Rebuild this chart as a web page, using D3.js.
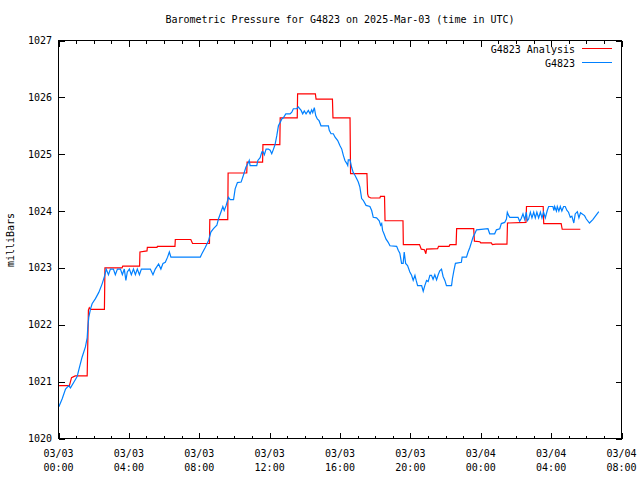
<!DOCTYPE html>
<html>
<head>
<meta charset="utf-8">
<script src="https://cdn.jsdelivr.net/npm/d3@7"></script>
<style>
  body { margin: 0; background: #fff; }
  svg { display: block; }
  text { font-family: "DejaVu Sans Mono", "Liberation Mono", monospace; font-size: 10px; fill: #000; }
</style>
</head>
<body>
<svg id="chart" width="640" height="480"></svg>
<script>
// ---- data (time in hours since 2025-03-03 00:00 UTC, pressure in mb) ----
const title = "Barometric Pressure for G4823 on 2025-Mar-03 (time in UTC)";
const yLabel = "milliBars";
const seriesNames = ["G4823 Analysis", "G4823"];

const xTickHours = [0, 4, 8, 12, 16, 20, 24, 28, 32];
const xTickDates = ["03/03", "03/03", "03/03", "03/03", "03/03", "03/03", "03/04", "03/04", "03/04"];
const xTickClock = ["00:00", "04:00", "08:00", "12:00", "16:00", "20:00", "00:00", "04:00", "08:00"];
const yTicks = [1020, 1021, 1022, 1023, 1024, 1025, 1026, 1027];

const analysisTimes = [0, 0.62, 0.74, 0.95, 1.63, 1.70, 1.75, 1.82, 2.61, 2.64, 3.61, 3.65, 4.61, 4.63, 5.03, 5.05,
  5.60, 5.62, 6.62, 6.64, 7.52, 7.62, 8.58, 8.60, 9.62, 9.64, 10.70, 10.72, 11.60, 11.62, 12.58, 12.60,
  13.57, 13.59, 14.60, 14.64, 15.57, 15.60, 16.57, 16.60, 17.53, 17.57, 17.62, 17.75, 18.27, 18.30, 18.53, 18.56,
  19.58, 19.60, 20.52, 20.62, 20.80, 20.88, 20.92, 21.55, 21.60, 22.20, 22.25, 22.60, 22.63, 23.60, 23.64, 23.95,
  24.00, 24.60, 24.66, 24.85, 25.49, 25.52, 26.57, 26.60, 27.55, 27.58, 28.57, 28.63, 29.66];
const analysisValues = [1020.93, 1020.93, 1021.07, 1021.10, 1021.10, 1022.26, 1022.30, 1022.27, 1022.27, 1023.00, 1023.00, 1023.03, 1023.03, 1023.28, 1023.30, 1023.36,
  1023.36, 1023.38, 1023.38, 1023.50, 1023.50, 1023.43, 1023.43, 1023.85, 1023.85, 1024.67, 1024.67, 1024.86, 1024.86, 1025.17, 1025.17, 1025.64,
  1025.64, 1026.06, 1026.06, 1025.97, 1025.97, 1025.64, 1025.64, 1024.66, 1024.66, 1024.30, 1024.25, 1024.23, 1024.23, 1024.26, 1024.26, 1023.83,
  1023.83, 1023.41, 1023.41, 1023.33, 1023.32, 1023.25, 1023.33, 1023.34, 1023.38, 1023.38, 1023.41, 1023.41, 1023.69, 1023.69, 1023.47, 1023.46,
  1023.44, 1023.44, 1023.41, 1023.42, 1023.42, 1023.79, 1023.80, 1024.08, 1024.08, 1023.78, 1023.78, 1023.68, 1023.68];

const obsTimes = [0.02, 0.21, 0.40, 0.58, 0.68, 0.87, 1.06, 1.19, 1.34, 1.53, 1.63, 1.66, 1.72, 1.82, 1.91, 2.10, 2.29, 2.48, 2.63, 2.71,
  2.84, 2.95, 3.12, 3.23, 3.35, 3.52, 3.63, 3.74, 3.83, 3.91, 4.03, 4.14, 4.26, 4.37, 4.48, 4.60, 4.71, 5.22, 5.37, 5.50,
  5.69, 5.82, 5.94, 6.07, 6.20, 6.30, 6.39, 8.06, 8.15, 8.34, 8.53, 8.66, 8.81, 9.00, 9.09, 9.23, 9.34, 9.42, 9.53, 9.66,
  9.76, 9.95, 10.04, 10.17, 10.38, 10.51, 10.65, 10.80, 10.84, 10.89, 11.27, 11.33, 11.46, 11.56, 11.63, 11.70, 11.80, 11.93, 12.03, 12.12,
  12.22, 12.31, 12.41, 12.50, 12.60, 12.69, 12.78, 12.92, 13.16, 13.26, 13.35, 13.54, 13.63, 13.79, 13.88, 13.97, 14.07, 14.20, 14.30, 14.39,
  14.45, 14.54, 14.62, 14.71, 14.81, 14.92, 15.34, 15.39, 15.49, 15.62, 15.72, 15.87, 16.00, 16.10, 16.19, 16.28, 16.38, 16.44, 16.47, 16.57,
  16.66, 16.75, 16.85, 16.95, 17.04, 17.13, 17.23, 17.32, 17.48, 17.70, 17.80, 17.89, 18.08, 18.23, 18.31, 18.37, 18.42, 18.50, 18.61, 18.74,
  18.84, 19.22, 19.31, 19.40, 19.50, 19.59, 19.65, 19.73, 19.84, 19.97, 20.07, 20.16, 20.26, 20.33, 20.41, 20.64, 20.73, 20.82, 20.92, 21.01,
  21.11, 21.20, 21.29, 21.39, 21.49, 21.58, 21.67, 21.77, 21.86, 21.96, 22.05, 22.34, 22.39, 22.47, 22.56, 22.90, 22.94, 23.19, 23.28, 23.38,
  23.47, 23.56, 23.66, 23.76, 24.41, 24.51, 24.79, 24.89, 25.08, 25.17, 25.36, 25.46, 25.51, 25.59, 25.65, 26.12, 26.21, 26.30, 26.40, 26.50,
  26.59, 26.65, 26.72, 26.82, 26.91, 27.01, 27.10, 27.19, 27.29, 27.39, 27.48, 27.57, 27.67, 27.78, 27.86, 28.10, 28.16, 28.20, 28.30, 28.35,
  28.44, 28.52, 28.61, 28.71, 28.80, 28.90, 28.99, 29.09, 29.18, 29.29, 29.37, 29.49, 29.58, 29.67, 29.77, 29.90, 30.00, 30.18, 30.37, 30.56, 30.71];
const obsValues = [1020.56, 1020.70, 1020.87, 1020.93, 1020.89, 1020.99, 1021.09, 1021.25, 1021.43, 1021.61, 1021.77, 1021.93, 1022.13, 1022.28, 1022.37, 1022.46, 1022.57, 1022.72, 1022.87, 1022.98,
  1022.88, 1022.98, 1022.98, 1022.88, 1022.98, 1022.98, 1022.88, 1022.98, 1022.78, 1022.93, 1022.98, 1022.88, 1022.98, 1022.88, 1022.98, 1022.88, 1022.98, 1022.98, 1022.88, 1022.98,
  1023.07, 1022.98, 1023.08, 1023.10, 1023.19, 1023.28, 1023.19, 1023.19, 1023.25, 1023.36, 1023.48, 1023.63, 1023.69, 1023.75, 1023.86, 1023.98, 1024.08, 1024.01, 1024.10, 1024.24,
  1024.20, 1024.20, 1024.39, 1024.50, 1024.51, 1024.63, 1024.77, 1024.86, 1024.89, 1024.80, 1024.80, 1024.89, 1024.94, 1025.04, 1025.04, 1024.99, 1025.09, 1025.09, 1025.07, 1025.01,
  1025.09, 1025.17, 1025.33, 1025.50, 1025.56, 1025.62, 1025.64, 1025.71, 1025.71, 1025.74, 1025.80, 1025.80, 1025.83, 1025.77, 1025.71, 1025.76, 1025.71, 1025.77, 1025.71, 1025.78,
  1025.73, 1025.82, 1025.68, 1025.62, 1025.59, 1025.50, 1025.50, 1025.42, 1025.36, 1025.36, 1025.30, 1025.24, 1025.15, 1025.09, 1024.98, 1024.89, 1024.84, 1024.80, 1024.90, 1024.90,
  1024.77, 1024.68, 1024.63, 1024.57, 1024.51, 1024.42, 1024.22, 1024.19, 1024.10, 1024.08, 1024.01, 1023.89, 1023.88, 1023.83, 1023.75, 1023.78, 1023.66, 1023.60, 1023.51, 1023.45,
  1023.39, 1023.38, 1023.31, 1023.26, 1023.08, 1023.08, 1023.28, 1023.08, 1023.04, 1022.93, 1022.87, 1022.78, 1022.87, 1022.78, 1022.69, 1022.69, 1022.59, 1022.69, 1022.78, 1022.76,
  1022.87, 1022.87, 1022.80, 1022.88, 1022.79, 1022.88, 1022.95, 1022.98, 1022.85, 1022.78, 1022.69, 1022.69, 1022.81, 1022.95, 1023.08, 1023.10, 1023.19, 1023.19, 1023.28, 1023.36,
  1023.45, 1023.54, 1023.60, 1023.67, 1023.69, 1023.60, 1023.60, 1023.67, 1023.69, 1023.78, 1023.80, 1023.86, 1023.98, 1023.92, 1023.89, 1023.89, 1023.82, 1023.87, 1023.95, 1023.85,
  1023.98, 1023.83, 1023.86, 1023.98, 1023.88, 1023.98, 1023.88, 1023.98, 1023.88, 1023.98, 1023.88, 1023.98, 1023.88, 1024.01, 1024.08, 1024.08, 1024.01, 1024.08, 1024.00, 1024.08,
  1024.00, 1024.08, 1024.00, 1024.08, 1024.08, 1024.01, 1023.98, 1023.89, 1023.91, 1023.79, 1023.95, 1023.99, 1023.88, 1023.97, 1023.95, 1023.92, 1023.86, 1023.79, 1023.85, 1023.93, 1023.99];

const seriesColors = ["#ff0000", "#0080ff"];

// ---- drawing ----
const svg = d3.select("#chart");
const L = 58.5, R = 621.5, T = 40.5, B = 438.5;

const x = d3.scaleLinear().domain([0, 32]).range([L, R]);
const y = d3.scaleLinear().domain([1020, 1027]).range([B, T]);

const minorHours = d3.range(0, 33, 1);

// minor ticks (bottom / top)
svg.append("g").attr("transform", `translate(0,${B})`)
  .call(d3.axisBottom(x).tickValues(minorHours).tickSize(-3).tickFormat(""))
  .call(g => g.select(".domain").remove());
svg.append("g").attr("transform", `translate(0,${T})`)
  .call(d3.axisTop(x).tickValues(minorHours).tickSize(-3).tickFormat(""))
  .call(g => g.select(".domain").remove());
// major ticks
svg.append("g").attr("transform", `translate(0,${B})`)
  .call(d3.axisBottom(x).tickValues(xTickHours).tickSize(-6).tickFormat(""))
  .call(g => g.select(".domain").remove());
svg.append("g").attr("transform", `translate(0,${T})`)
  .call(d3.axisTop(x).tickValues(xTickHours).tickSize(-6).tickFormat(""))
  .call(g => g.select(".domain").remove());
svg.append("g").attr("transform", `translate(${L},0)`)
  .call(d3.axisLeft(y).tickValues(yTicks).tickSize(-6).tickFormat(""))
  .call(g => g.select(".domain").remove());
svg.append("g").attr("transform", `translate(${R},0)`)
  .call(d3.axisRight(y).tickValues(yTicks).tickSize(-6).tickFormat(""))
  .call(g => g.select(".domain").remove());
svg.selectAll(".tick line").attr("stroke", "#000").attr("shape-rendering", "crispEdges");

// y tick labels
svg.append("g").selectAll("text").data(yTicks).join("text")
  .attr("x", 52).attr("y", d => y(d) + 3.5)
  .attr("text-anchor", "end").text(d => d);

// x tick labels (two lines)
const xl = svg.append("g").selectAll("g").data(xTickHours).join("g")
  .attr("transform", d => `translate(${x(d)},0)`);
xl.append("text").attr("y", 457).attr("text-anchor", "middle").text((d, i) => xTickDates[i]);
xl.append("text").attr("y", 471).attr("text-anchor", "middle").text((d, i) => xTickClock[i]);

// title & y label
svg.append("text").attr("x", 340).attr("y", 23).attr("text-anchor", "middle").text(title);
svg.append("text").attr("transform", "translate(14,240) rotate(-90)")
  .attr("text-anchor", "middle").text(yLabel);

// lines
const line = d3.line().x(d => x(d[0])).y(d => y(d[1]));
const analysis = analysisTimes.map((t, i) => [t, analysisValues[i]]);
const obs = obsTimes.map((t, i) => [t, obsValues[i]]);

svg.append("path").datum(analysis).attr("d", line)
  .attr("fill", "none").attr("stroke", seriesColors[0]).attr("stroke-width", 1.2);
svg.append("path").datum(obs).attr("d", line)
  .attr("fill", "none").attr("stroke", seriesColors[1]).attr("stroke-width", 1.2);

// frame
svg.append("rect").attr("x", L).attr("y", T).attr("width", R - L).attr("height", B - T)
  .attr("fill", "none").attr("stroke", "#000").attr("shape-rendering", "crispEdges");

// legend
const leg = svg.append("g").selectAll("g").data(seriesNames).join("g")
  .attr("transform", (d, i) => `translate(0,${48.5 + i * 14})`);
leg.append("text").attr("x", 575).attr("y", 4).attr("text-anchor", "end").text(d => d);
leg.append("line").attr("x1", 582).attr("x2", 612).attr("y1", 0).attr("y2", 0)
  .attr("stroke", (d, i) => seriesColors[i]).attr("stroke-width", 1)
  .attr("shape-rendering", "crispEdges");
</script>
</body>
</html>
